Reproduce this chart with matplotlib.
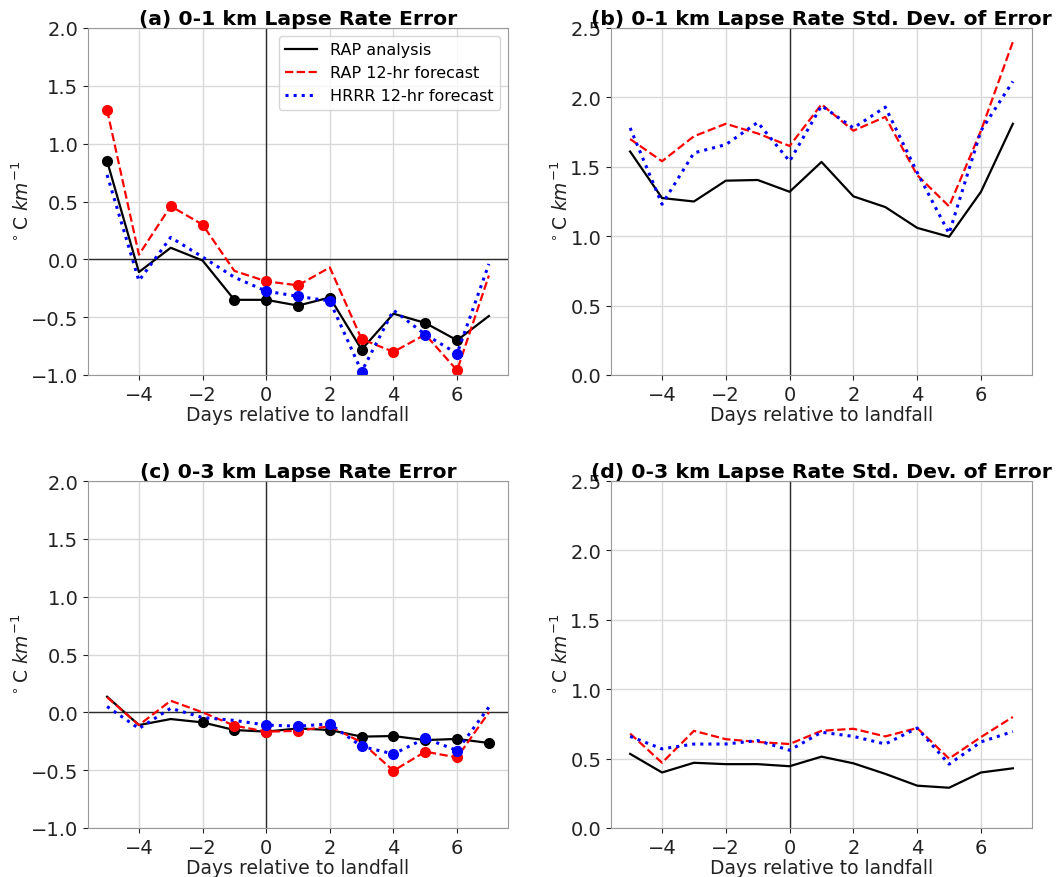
import matplotlib
matplotlib.use('Agg')
import matplotlib.pyplot as plt
import numpy as np

days = np.arange(-5, 8)

# (a) 0-1 km lapse rate error
a_rap_anl = [0.85, -0.11, 0.10, -0.01, -0.35, -0.35, -0.40, -0.33, -0.78, -0.47, -0.55, -0.70, -0.49]
a_rap_fcst = [1.29, 0.04, 0.46, 0.30, -0.10, -0.19, -0.225, -0.07, -0.69, -0.80, -0.65, -0.96, -0.14]
a_hrrr_fcst = [0.73, -0.185, 0.19, 0.02, -0.155, -0.275, -0.32, -0.36, -0.97, -0.44, -0.65, -0.815, -0.04]
a_sig_anl = [-5, -1, 0, 1, 2, 3, 5, 6]
a_sig_rap = [-5, -3, -2, 0, 1, 3, 4, 6]
a_sig_hrrr = [0, 1, 2, 3, 5, 6]

# (b) 0-1 km lapse rate std. dev. of error
b_rap_anl = [1.61, 1.275, 1.25, 1.40, 1.405, 1.32, 1.535, 1.287, 1.21, 1.06, 0.996, 1.32, 1.81]
b_rap_fcst = [1.70, 1.54, 1.72, 1.81, 1.74, 1.65, 1.95, 1.76, 1.86, 1.44, 1.215, 1.76, 2.40]
b_hrrr_fcst = [1.78, 1.23, 1.60, 1.66, 1.82, 1.54, 1.94, 1.78, 1.93, 1.46, 1.02, 1.76, 2.115]

# (c) 0-3 km lapse rate error
c_rap_anl = [0.135, -0.11, -0.058, -0.087, -0.153, -0.167, -0.139, -0.153, -0.21, -0.205, -0.24, -0.23, -0.265]
c_rap_fcst = [0.13, -0.11, 0.10, 0.0, -0.115, -0.167, -0.16, -0.12, -0.26, -0.505, -0.34, -0.39, 0.0]
c_hrrr_fcst = [0.05, -0.14, 0.035, -0.045, -0.07, -0.11, -0.12, -0.10, -0.295, -0.36, -0.225, -0.33, 0.045]
c_sig_anl = [-2, -1, 0, 2, 3, 4, 5, 6, 7]
c_sig_rap = [-1, 0, 1, 4, 5, 6]
c_sig_hrrr = [0, 1, 2, 3, 4, 5, 6]

# (d) 0-3 km lapse rate std. dev. of error
d_rap_anl = [0.534, 0.40, 0.47, 0.46, 0.46, 0.445, 0.514, 0.466, 0.39, 0.305, 0.29, 0.40, 0.43]
d_rap_fcst = [0.68, 0.47, 0.70, 0.64, 0.62, 0.605, 0.70, 0.715, 0.66, 0.72, 0.50, 0.655, 0.80]
d_hrrr_fcst = [0.66, 0.57, 0.605, 0.605, 0.63, 0.56, 0.69, 0.66, 0.605, 0.72, 0.46, 0.62, 0.695]

titles = ['(a) 0-1 km Lapse Rate Error',
          '(b) 0-1 km Lapse Rate Std. Dev. of Error',
          '(c) 0-3 km Lapse Rate Error',
          '(d) 0-3 km Lapse Rate Std. Dev. of Error']

styles = [dict(color='black', linestyle='-', lw=1.6, label='RAP analysis'),
          dict(color='red', linestyle='--', lw=1.6, label='RAP 12-hr forecast'),
          dict(color='blue', linestyle=':', lw=2.2, label='HRRR 12-hr forecast')]

fig = plt.figure(figsize=(10.59, 8.78), dpi=100)
W, H = 1059, 878
boxes = [(88, 29, 508, 376), (611, 29, 1032, 376),
         (88, 482, 508, 829), (611, 482, 1032, 829)]

panels = [([a_rap_anl, a_rap_fcst, a_hrrr_fcst], [a_sig_anl, a_sig_rap, a_sig_hrrr], (-1.0, 2.0)),
          ([b_rap_anl, b_rap_fcst, b_hrrr_fcst], None, (0.0, 2.5)),
          ([c_rap_anl, c_rap_fcst, c_hrrr_fcst], [c_sig_anl, c_sig_rap, c_sig_hrrr], (-1.0, 2.0)),
          ([d_rap_anl, d_rap_fcst, d_hrrr_fcst], None, (0.0, 2.5))]

for i, (series, sigs, ylim) in enumerate(panels):
    x0, y0, x1, y1 = boxes[i]
    ax = fig.add_axes([x0 / W, 1 - y1 / H, (x1 - x0) / W, (y1 - y0) / H])
    ax.grid(True, color='#d9d9d9', lw=1)
    ax.set_axisbelow(True)
    ax.axvline(0, color='black', lw=1, alpha=0.8)
    if ylim[0] < 0:
        ax.axhline(0, color='black', lw=1, alpha=0.8)
    for k, vals in enumerate(series):
        ax.plot(days, vals, **styles[k])
        if sigs is not None:
            # dots mark the days flagged in the reference
            mask = np.isin(days, sigs[k])
            ax.plot(days[mask], np.array(vals)[mask], 'o', color=styles[k]['color'], ms=7)
    ax.set_xlim(-5.6, 7.6)
    ax.set_ylim(*ylim)
    ax.set_xticks([-4, -2, 0, 2, 4, 6])
    ax.set_yticks(np.arange(ylim[0], ylim[1] + 0.01, 0.5))
    ax.tick_params(labelsize=14, colors='#222222')
    ax.set_title(titles[i], fontsize=14.7, fontweight='bold', pad=2)
    ax.set_xlabel('Days relative to landfall', fontsize=13.5, labelpad=1, color='#222222')
    ax.set_ylabel(r'$^\circ$C $km^{-1}$', fontsize=13.5, labelpad=-1.5, color='#222222')
    for s in ax.spines.values():
        s.set_color('#999999')
    if i == 0:
        ax.legend(loc='upper right', fontsize=11.5)

fig.savefig('out.png', dpi=100)
